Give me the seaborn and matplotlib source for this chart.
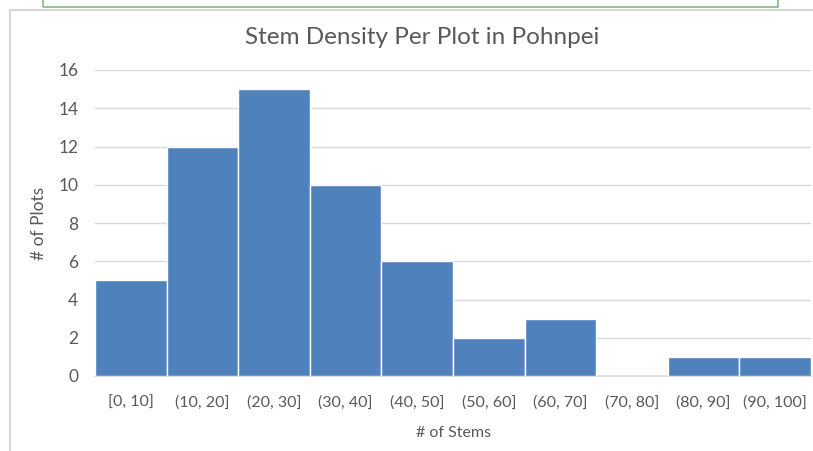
import matplotlib
matplotlib.use("Agg")
import matplotlib.pyplot as plt
import seaborn as sns
import pandas as pd
from matplotlib.patches import Rectangle

# ===== Data =====
bins = ["[0, 10]", "(10, 20]", "(20, 30]", "(30, 40]", "(40, 50]",
        "(50, 60]", "(60, 70]", "(70, 80]", "(80, 90]", "(90, 100]"]
plots = [5, 12, 15, 10, 6, 2, 3, 0, 1, 1]
yticks = [0, 2, 4, 6, 8, 10, 12, 14, 16]

df = pd.DataFrame({"bin": bins, "plots": plots})

sns.set_theme(style="white")
plt.rcParams["font.family"] = ["Lato", "DejaVu Sans"]

W, H = 813, 451
fig = plt.figure(figsize=(W / 100, H / 100), dpi=100)

# chart area border + screenshot frame above it
fig.patches.append(Rectangle((10 / W, -0.1), 1.2, 1 - 10 / H + 0.1,
                             transform=fig.transFigure, fill=False,
                             edgecolor="#D0D0D0", linewidth=1.2))
fig.patches.append(Rectangle((43 / W, 1 - 7 / H), (778 - 43) / W, 0.1,
                             transform=fig.transFigure, fill=False,
                             edgecolor="#7FBF7F", linewidth=1.2))

ax = fig.add_axes([95 / W, 1 - 376 / H, (811 - 95) / W, (376 - 70) / H])
sns.barplot(data=df, x="bin", y="plots", color="#4F81BD", saturation=1,
            width=1, edgecolor="white", linewidth=1, ax=ax, zorder=3)

ax.set_ylim(0, 16)
ax.set_yticks(yticks)
ax.set_xlim(-0.5, len(bins) - 0.5)
ax.yaxis.grid(True, color="#D9D9D9", linewidth=1, zorder=0)
for s in ["top", "right", "left"]:
    ax.spines[s].set_visible(False)
ax.spines["bottom"].set_color("#D9D9D9")
ax.tick_params(axis="both", length=0, colors="#595959", labelsize=11.5)
ax.tick_params(axis="y", labelsize=12.5, pad=12)
ax.tick_params(axis="x", pad=14)

ax.set_xlabel("# of Stems", color="#595959", fontsize=11.5, labelpad=12)
ax.set_ylabel("# of Plots", color="#595959", fontsize=12.5, labelpad=8)
fig.text(422 / W, 1 - 38 / H, "Stem Density Per Plot in Pohnpei",
         ha="center", va="center", color="#595959", fontsize=17.5)

fig.savefig("out.png", dpi=100)
